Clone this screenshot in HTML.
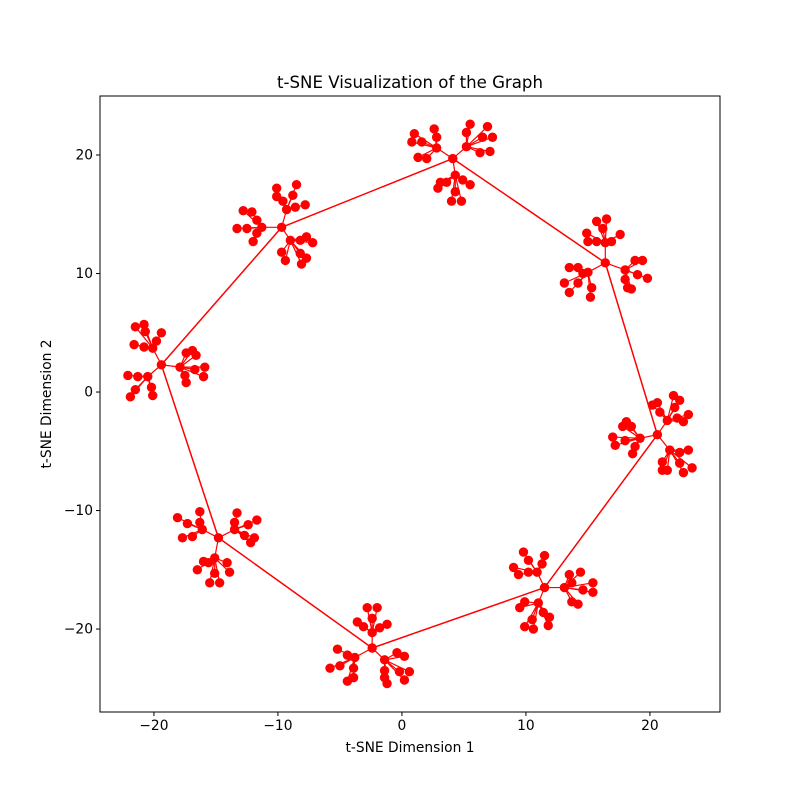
<!DOCTYPE html>
<html><head><meta charset="utf-8"><style>
html,body{margin:0;padding:0;background:#fff;}
svg{display:block;font-family:"DejaVu Sans","Liberation Sans",sans-serif;}
</style></head><body>
<svg id="chart" width="800" height="800" viewBox="0 0 800 800">
<rect x="0" y="0" width="800" height="800" fill="#fff"/>
<text x="410" y="88" text-anchor="middle" font-size="16.6">t-SNE Visualization of the Graph</text>
<text x="410" y="752" text-anchor="middle" font-size="13.8">t-SNE Dimension 1</text>
<text x="0" y="0" transform="translate(51,404) rotate(-90)" text-anchor="middle" font-size="13.8">t-SNE Dimension 2</text>
<g id="plot"></g>
</svg>
<script>
// Hub node for each cluster (data coords), order = ring connection order
const hubX = [4.1, 16.4, 20.6, 11.5, -2.4, -14.8, -19.4, -9.7];
const hubY = [19.7, 10.9, -3.6, -16.5, -21.6, -12.3, 2.3, 13.9];
// Sub-hubs: [clusterIndex, x, y]
const subHubs = [
 [0,2.8,20.6],[0,5.2,20.7],[0,4.3,18.3],
 [1,16.4,12.6],[1,15.0,10.1],[1,18.0,10.3],
 [2,21.4,-2.4],[2,19.2,-3.9],[2,21.6,-4.9],
 [3,10.9,-15.2],[3,13.1,-16.5],[3,11.0,-17.8],
 [4,-2.4,-20.3],[4,-3.8,-22.4],[4,-1.4,-22.6],
 [5,-16.1,-11.6],[5,-13.5,-11.6],[5,-15.1,-14.0],
 [6,-20.1,3.7],[6,-17.9,2.1],[6,-20.5,1.3],
 [7,-9.3,15.4],[7,-11.3,13.9],[7,-9.0,12.8]
];
// Leaves: [subHubIndex, x, y]
const leaves = [
 [0,1.0,21.8],[0,0.8,21.1],[0,1.6,21.1],[0,1.3,19.8],[0,2.0,19.7],[0,2.6,22.2],[0,2.8,21.5],
 [1,5.5,22.6],[1,5.2,21.9],[1,6.9,22.4],[1,7.3,21.5],[1,6.5,21.5],[1,7.1,20.3],[1,6.3,20.2],
 [2,3.1,17.7],[2,2.9,17.2],[2,3.6,17.7],[2,4.9,17.9],[2,5.5,17.5],[2,4.3,16.9],[2,4.0,16.1],[2,4.8,16.1],
 [3,15.7,14.4],[3,16.5,14.6],[3,16.2,13.8],[3,14.9,13.4],[3,15.0,12.7],[3,15.7,12.7],[3,17.6,13.3],[3,16.9,12.7],
 [4,13.5,10.5],[4,14.2,10.5],[4,14.6,10.0],[4,13.1,9.2],[4,13.5,8.4],[4,14.2,9.2],[4,15.3,8.8],[4,15.2,8.0],
 [5,18.8,11.1],[5,19.4,11.1],[5,19.0,9.9],[5,19.8,9.6],[5,18.0,9.5],[5,18.2,8.8],[5,18.5,8.7],
 [6,21.9,-0.3],[6,22.4,-0.7],[6,20.6,-0.9],[6,20.2,-1.1],[6,22.0,-1.3],[6,22.2,-2.2],[6,23.1,-1.9],[6,22.7,-2.5],[6,20.8,-1.7],
 [7,18.1,-2.5],[7,18.5,-2.9],[7,17.8,-2.9],[7,17.0,-3.8],[7,18.0,-4.1],[7,17.2,-4.5],[7,18.8,-4.6],[7,18.6,-5.2],
 [8,22.4,-5.1],[8,23.1,-4.9],[8,21.0,-5.9],[8,21.0,-6.6],[8,22.4,-6.0],[8,23.4,-6.4],[8,22.7,-6.8],[8,21.4,-6.6],
 [9,9.8,-13.5],[9,10.2,-14.2],[9,11.5,-13.8],[9,11.3,-14.5],[9,9.0,-14.8],[9,9.4,-15.4],[9,10.2,-15.2],
 [10,13.5,-15.4],[10,14.4,-15.2],[10,13.7,-16.1],[10,14.6,-16.7],[10,15.4,-16.1],[10,15.4,-16.9],[10,13.7,-17.7],[10,14.2,-17.9],
 [11,9.9,-17.7],[11,9.5,-18.2],[11,11.4,-18.6],[11,11.9,-19.0],[11,11.8,-19.7],[11,10.5,-19.2],[11,9.9,-19.8],[11,10.6,-20.0],
 [12,-2.8,-18.2],[12,-2.0,-18.2],[12,-2.4,-19.1],[12,-3.6,-19.4],[12,-3.1,-19.8],[12,-1.2,-19.6],[12,-1.8,-19.9],
 [13,-5.2,-21.7],[13,-4.4,-22.2],[13,-5.8,-23.3],[13,-5.0,-23.1],[13,-3.9,-23.3],[13,-3.9,-24.1],[13,-4.4,-24.4],
 [14,-0.4,-22.0],[14,0.2,-22.3],[14,-1.4,-23.5],[14,-0.2,-23.6],[14,0.6,-23.6],[14,0.2,-24.3],[14,-1.4,-24.1],[14,-1.2,-24.6],
 [15,-18.1,-10.6],[15,-17.3,-11.1],[15,-17.7,-12.3],[15,-16.9,-12.2],[15,-16.3,-10.1],[15,-16.3,-11.0],
 [16,-13.3,-10.2],[16,-13.5,-11.0],[16,-11.7,-10.8],[16,-12.4,-11.2],[16,-12.7,-12.1],[16,-11.9,-12.3],[16,-12.2,-12.7],
 [17,-16.0,-14.3],[17,-16.5,-15.0],[17,-15.6,-14.4],[17,-14.1,-14.4],[17,-13.9,-15.2],[17,-15.1,-15.3],[17,-15.5,-16.1],[17,-14.7,-16.1],
 [18,-21.5,5.5],[18,-20.8,5.7],[18,-20.7,5.1],[18,-21.6,4.0],[18,-20.8,3.8],[18,-19.4,5.0],[18,-19.8,4.3],
 [19,-17.4,3.3],[19,-16.9,3.5],[19,-16.6,3.1],[19,-16.7,1.9],[19,-15.9,2.1],[19,-16.0,1.3],[19,-17.5,1.4],[19,-17.4,0.8],
 [20,-22.1,1.4],[20,-21.3,1.3],[20,-21.5,0.2],[20,-21.9,-0.4],[20,-20.2,0.4],[20,-20.1,-0.3],
 [21,-10.1,17.2],[21,-10.1,16.5],[21,-8.5,17.5],[21,-8.8,16.6],[21,-9.6,16.1],[21,-8.6,15.6],[21,-7.8,15.8],
 [22,-12.8,15.3],[22,-12.1,15.2],[22,-13.3,13.8],[22,-12.5,13.8],[22,-11.7,14.5],[22,-11.7,13.4],[22,-12.0,12.7],
 [23,-9.7,11.8],[23,-9.4,11.1],[23,-8.2,12.8],[23,-7.7,13.1],[23,-7.2,12.6],[23,-8.2,11.7],[23,-7.7,11.3],[23,-8.1,10.8]
];
const xTicks = [-20,-10,0,10,20];
const yTicks = [-20,-10,0,10,20];
const xTickLabels = ["\u221220","\u221210","0","10","20"];
const yTickLabels = ["\u221220","\u221210","0","10","20"];

const L=100,T=96,W=620,H=616;
const xMin=-24.35,xMax=25.65,yMin=-27.0,yMax=24.98;
function sx(v){return L+(v-xMin)/(xMax-xMin)*W;}
function sy(v){return T+H-(v-yMin)/(yMax-yMin)*H;}
const NS="http://www.w3.org/2000/svg";
const plot=document.getElementById('plot');
function mk(tag,attrs,parent){const e=document.createElementNS(NS,tag);for(const k in attrs)e.setAttribute(k,attrs[k]);(parent||plot).appendChild(e);return e;}

const edges=mk('g',{});


function line(x1,y1,x2,y2,name,w){
  const l=mk('line',{x1:sx(x1),y1:sy(y1),x2:sx(x2),y2:sy(y2),stroke:'#ff0000','stroke-width':w},edges);
  
  
}
for(let i=0;i<hubX.length;i++){const j=(i+1)%hubX.length;line(hubX[i],hubY[i],hubX[j],hubY[j],'ring-edge',1.5);}
subHubs.forEach(s=>line(hubX[s[0]],hubY[s[0]],s[1],s[2],'hub-edge',1.2));
leaves.forEach(l=>{const s=subHubs[l[0]];line(s[1],s[2],l[1],l[2],'leaf-edge',1.2);});

const nodes=mk('g',{fill:'#ff0000'});


function dot(x,y,name){
  const c=mk('circle',{cx:sx(x),cy:sy(y),r:4.7},nodes);
  
  
}
hubX.forEach((x,i)=>dot(x,hubY[i],'hub-node'));
subHubs.forEach(s=>dot(s[1],s[2],'subhub-node'));
leaves.forEach(l=>dot(l[1],l[2],'leaf-node'));

const frame=mk('rect',{x:L,y:T,width:W,height:H,fill:'none',stroke:'#000','stroke-width':1});


xTicks.forEach((v,i)=>{
  const t=mk('line',{x1:sx(v),x2:sx(v),y1:T+H,y2:T+H+4,stroke:'#000'});
  
  
  const tx=mk('text',{x:sx(v),y:T+H+18,'text-anchor':'middle','font-size':13.8});
  tx.textContent=xTickLabels[i];
  
  
});
yTicks.forEach((v,i)=>{
  const t=mk('line',{x1:L-4,x2:L,y1:sy(v),y2:sy(v),stroke:'#000'});
  
  
  const tx=mk('text',{x:L-7,y:sy(v)+4.5,'text-anchor':'end','font-size':13.8});
  tx.textContent=yTickLabels[i];
  
  
});
</script>
</body></html>
